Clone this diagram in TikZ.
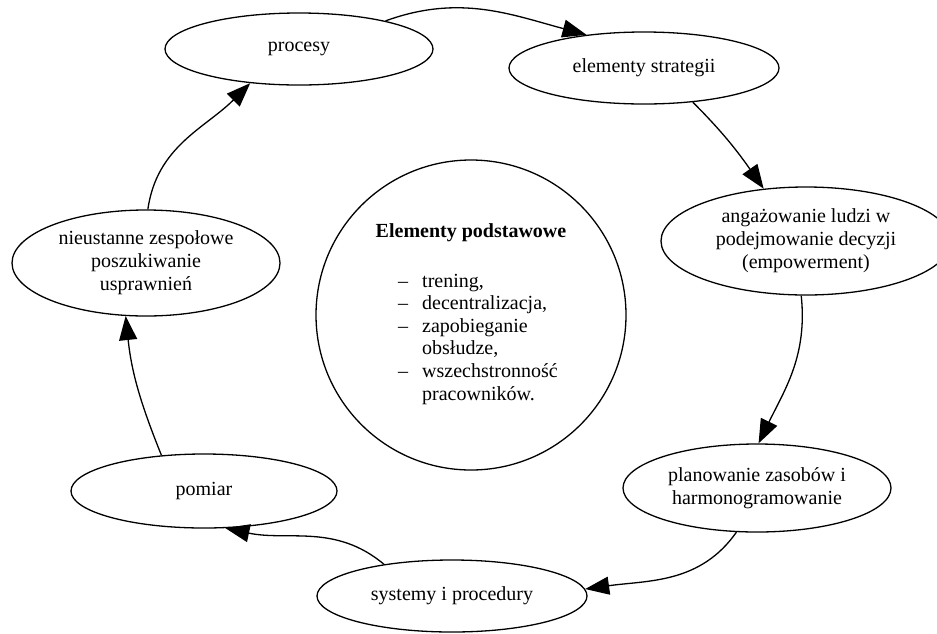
\documentclass[tikz,border=0pt]{standalone}
\usepackage{fontspec}
\setmainfont{Liberation Serif}
\usetikzlibrary{shapes.geometric, arrows.meta}

\begin{document}
\begin{tikzpicture}[x=1pt, y=1pt,
  stage/.style={draw, ellipse, line width=1.3pt, inner sep=0pt, align=center, font=\fontsize{20}{23}\selectfont},
  flow/.style={-{Triangle[length=24pt, width=18pt]}, line width=1.3pt}]
\useasboundingbox (0,0) rectangle (937,-633);
\node[stage, minimum width=268pt, minimum height=72pt] (proc) at (299,-49) {procesy};
\node[stage, minimum width=270pt, minimum height=72pt] (strat) at (644,-68) {elementy strategii};
\node[stage, minimum width=290pt, minimum height=108pt] (ang) at (806,-241) {angażowanie ludzi w\\podejmowanie decyzji\\(empowerment)};
\node[stage, minimum width=268pt, minimum height=88pt] (plan) at (757,-488) {planowanie zasobów i\\harmonogramowanie};
\node[stage, minimum width=270pt, minimum height=72pt] (sys) at (452,-596) {systemy i procedury};
\node[stage, minimum width=266pt, minimum height=74pt] (pom) at (204,-491) {pomiar};
\node[stage, minimum width=268pt, minimum height=106pt] (nie) at (146,-263) {nieustanne zespołowe\\poszukiwanie\\usprawnień};
% srodek
\node[draw, circle, line width=1.3pt, minimum size=310pt] (core) at (471,-315) {};
\node[font=\fontsize{20}{23}\selectfont\bfseries] (title) at (471,-233) {Elementy podstawowe};
\node[anchor=north west, inner sep=0pt, font=\fontsize{20}{22.6}\selectfont] (list) at (398,-271) {%
  \begin{tabular}{@{}l@{\hspace{14pt}}l@{}}
  --&trening,\\
  --&decentralizacja,\\
  --&zapobieganie\\
  &obsłudze,\\
  --&wszechstronność\\
  &pracowników.
  \end{tabular}};
\draw[flow] (proc.18) to[out=20, in=165] (strat.150);
\draw[flow] (strat.-35) to[out=-45, in=125] (ang.129);
\draw[flow] (ang.-95) to[out=-84, in=64] (plan.88);
\draw[flow] (plan.-115) to[out=-125, in=8] (sys.3);
\draw[flow] (sys.155) to[out=140, in=-12] (pom.-60);
\draw[flow] (pom.140) to[out=112, in=-84] (nie.-111);
\draw[flow] (nie.88) to[out=82, in=-135] (proc.-145);
\end{tikzpicture}
\end{document}
